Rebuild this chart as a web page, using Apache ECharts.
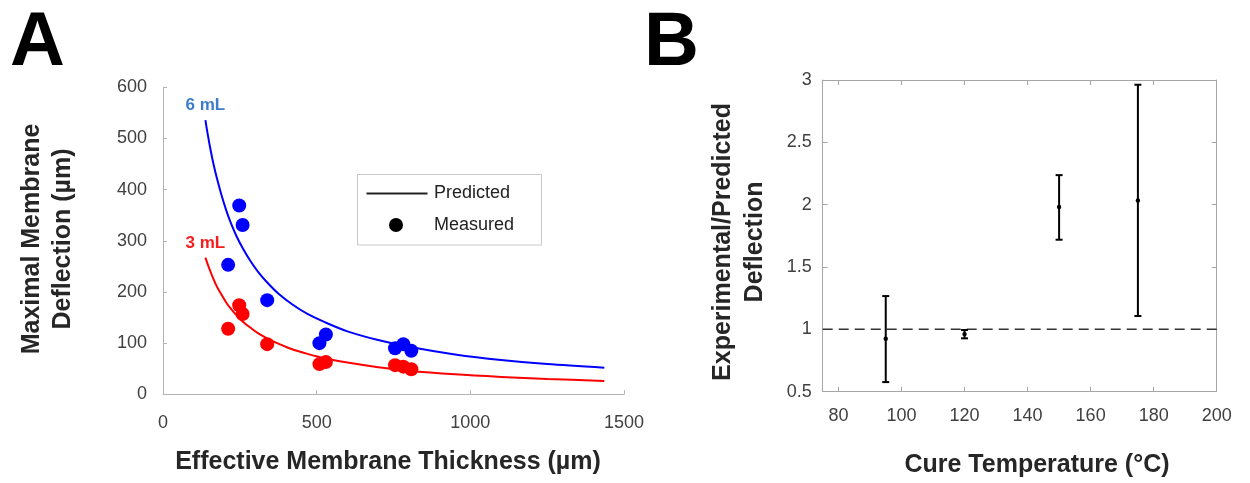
<!DOCTYPE html>
<html>
<head>
<meta charset="utf-8">
<script src="https://cdn.jsdelivr.net/npm/echarts@6/dist/echarts.min.js"></script>
<style>html,body{margin:0;padding:0;background:#fff}#c{width:1250px;height:483px}</style>
</head>
<body>
<div id="c"></div>
<script>
// ---- Panel A data ----
const curveThickness = [138, 145, 155, 165, 175, 190, 205, 220, 240, 260, 285, 310, 340, 375, 420, 470, 530, 600, 700, 800, 950, 1100, 1250, 1436];
const predicted6mL   = [536, 510, 477, 448, 423, 390, 361, 336, 308, 285, 260, 239, 218, 197, 176, 157, 140, 123, 106, 93, 78, 67, 59, 52];
const predicted3mL   = [267, 255, 239, 224, 211, 195, 180, 168, 154, 142, 130, 119, 109, 99, 88, 79, 70, 62, 53, 46, 39, 34, 30, 26];
const measuredThickness = [212, 248, 259, 339, 509, 530, 755, 782, 808];
const measured6mL       = [253, 369, 331, 184, 100, 117, 90, 98, 85];
const measured3mL       = [128, 174, 157, 98, 59, 63, 57, 54, 49];
const xTicksA = [0, 500, 1000, 1500];
const yTicksA = [0, 100, 200, 300, 400, 500, 600];
// ---- Panel B data ----
const cureTemp   = [95, 120, 150, 175];
const ratioMean  = [0.925, 0.962, 1.981, 2.034];
const ratioLow   = [0.577, 0.928, 1.719, 1.107];
const ratioHigh  = [1.267, 0.995, 2.237, 2.962];
const xTicksB = [80, 100, 120, 140, 160, 180, 200];
const yTicksB = [0.5, 1, 1.5, 2, 2.5, 3];

const FONT = '"Liberation Sans", Arial, sans-serif';
const chart = echarts.init(document.getElementById('c'), null, {renderer: 'canvas'});

function pairs(xs, ys) { return xs.map((x, i) => [x, ys[i]]); }
function labelled(xs, ys, text, color) {
  return xs.map((x, i) => i === 0 ? {
    value: [x, ys[i]],
    label: {show: true, formatter: text, position: 'top', distance: 6,
      color: color, fontFamily: FONT, fontWeight: 'bold', fontSize: 17}
  } : [x, ys[i]]);
}
const plain = v => String(v);

const axisGrayA = '#b4b4b4';
const axisGrayB = '#a6a6a6';
const labelColor = '#404040';

const option = {
  animation: false,
  backgroundColor: '#fff',
  grid: [
    {left: 163, top: 87.3, width: 461, height: 307},
    {left: 822.7, top: 80, width: 394, height: 311.7}
  ],
  xAxis: [
    {type: 'value', gridIndex: 0, min: xTicksA[0], max: xTicksA[xTicksA.length - 1], interval: 500,
      axisLine: {show: true, lineStyle: {color: axisGrayA, width: 1}},
      axisTick: {show: true, inside: true, length: 4, lineStyle: {color: axisGrayA}},
      axisLabel: {margin: 20, color: labelColor, fontSize: 18, fontFamily: FONT, formatter: plain},
      splitLine: {show: false}},
    {type: 'value', gridIndex: 1, min: 75, max: 200,
      axisLine: {show: true, onZero: false, lineStyle: {color: axisGrayB, width: 1}},
      axisTick: {show: true, inside: true, length: 5, customValues: xTicksB, lineStyle: {color: axisGrayB}},
      axisLabel: {margin: 15, color: labelColor, fontSize: 18, fontFamily: FONT, customValues: xTicksB, formatter: plain},
      splitLine: {show: false}},
    {type: 'value', gridIndex: 1, position: 'top', min: 75, max: 200,
      axisLine: {show: true, onZero: false, lineStyle: {color: axisGrayB, width: 1}},
      axisTick: {show: true, inside: true, length: 5, customValues: xTicksB, lineStyle: {color: axisGrayB}},
      axisLabel: {show: false},
      splitLine: {show: false}}
  ],
  yAxis: [
    {type: 'value', gridIndex: 0, min: yTicksA[0], max: yTicksA[yTicksA.length - 1], interval: 100,
      axisLine: {show: true, lineStyle: {color: axisGrayA, width: 1}},
      axisTick: {show: true, inside: true, length: 4, lineStyle: {color: axisGrayA}},
      axisLabel: {margin: 16, color: labelColor, fontSize: 18, fontFamily: FONT, formatter: plain},
      splitLine: {show: false}},
    {type: 'value', gridIndex: 1, min: yTicksB[0], max: yTicksB[yTicksB.length - 1], interval: 0.5,
      axisLine: {show: true, onZero: false, lineStyle: {color: axisGrayB, width: 1}},
      axisTick: {show: true, inside: true, length: 5, lineStyle: {color: axisGrayB}},
      axisLabel: {margin: 11, color: labelColor, fontSize: 18, fontFamily: FONT, formatter: plain},
      splitLine: {show: false}},
    {type: 'value', gridIndex: 1, position: 'right', min: yTicksB[0], max: yTicksB[yTicksB.length - 1], interval: 0.5,
      axisLine: {show: true, onZero: false, lineStyle: {color: axisGrayB, width: 1}},
      axisTick: {show: true, inside: true, length: 5, lineStyle: {color: axisGrayB}},
      axisLabel: {show: false},
      splitLine: {show: false}}
  ],
  series: [
    {type: 'line', xAxisIndex: 0, yAxisIndex: 0, smooth: 0.3, symbol: 'circle', symbolSize: 0,
      showSymbol: true, lineStyle: {color: '#0000ff', width: 2}, itemStyle: {color: '#0000ff'},
      data: labelled(curveThickness, predicted6mL, '6 mL', '#3d7dca'), z: 2},
    {type: 'line', xAxisIndex: 0, yAxisIndex: 0, smooth: 0.3, symbol: 'circle', symbolSize: 0,
      showSymbol: true, lineStyle: {color: '#ff0000', width: 2}, itemStyle: {color: '#ff0000'},
      data: labelled(curveThickness, predicted3mL, '3 mL', '#f41e1e'), z: 2},
    {type: 'scatter', xAxisIndex: 0, yAxisIndex: 0, symbolSize: 14,
      itemStyle: {color: '#0000ff', opacity: 1}, data: pairs(measuredThickness, measured6mL), z: 3},
    {type: 'scatter', xAxisIndex: 0, yAxisIndex: 0, symbolSize: 14,
      itemStyle: {color: '#ff0000', opacity: 1}, data: pairs(measuredThickness, measured3mL), z: 3},
    {type: 'line', xAxisIndex: 1, yAxisIndex: 1, symbol: 'none',
      lineStyle: {color: '#333', width: 1.5, type: [10, 6]},
      data: [[75, 1], [200, 1]], z: 1},
    {type: 'custom', xAxisIndex: 1, yAxisIndex: 1,
      data: cureTemp.map((t, i) => [t, ratioLow[i], ratioHigh[i], ratioMean[i]]),
      encode: {x: 0, y: [1, 2]},
      renderItem: function (params, api) {
        const x = api.value(0);
        const pLo = api.coord([x, api.value(1)]);
        const pHi = api.coord([x, api.value(2)]);
        const pM = api.coord([x, api.value(3)]);
        const w = 3.5;
        const st = {stroke: '#000', lineWidth: 2};
        return {type: 'group', children: [
          {type: 'line', shape: {x1: pLo[0], y1: pLo[1], x2: pHi[0], y2: pHi[1]}, style: st},
          {type: 'line', shape: {x1: pLo[0] - w, y1: pLo[1], x2: pLo[0] + w, y2: pLo[1]}, style: st},
          {type: 'line', shape: {x1: pHi[0] - w, y1: pHi[1], x2: pHi[0] + w, y2: pHi[1]}, style: st},
          {type: 'circle', shape: {cx: pM[0], cy: pM[1], r: 2.2}, style: {fill: '#000'}}
        ]};
      }, z: 3}
  ],
  graphic: [
    {type: 'text', left: 10, top: 6, style: {text: 'A', font: 'bold 76px ' + FONT, fill: '#000'}},
    {type: 'text', left: 644, top: 6, style: {text: 'B', font: 'bold 76px ' + FONT, fill: '#000'}},
    // legend box
    {type: 'rect', shape: {x: 357.5, y: 174.5, width: 184, height: 70.5},
      style: {fill: '#fff', stroke: '#c8c8c8', lineWidth: 1}, z: 10},
    {type: 'line', shape: {x1: 366.5, y1: 193.5, x2: 427.5, y2: 193.5},
      style: {stroke: '#222', lineWidth: 2}, z: 11},
    {type: 'circle', shape: {cx: 396, cy: 225, r: 7}, style: {fill: '#000'}, z: 11},
    {type: 'text', x: 434, y: 193.5, style: {text: 'Predicted', font: '18px ' + FONT, fill: '#222',
      textVerticalAlign: 'middle'}, z: 11},
    {type: 'text', x: 434, y: 225, style: {text: 'Measured', font: '18px ' + FONT, fill: '#222',
      textVerticalAlign: 'middle'}, z: 11},
    // axis titles
    {type: 'text', x: 388, y: 462, style: {text: 'Effective Membrane Thickness (µm)',
      font: 'bold 25px ' + FONT, fill: '#262626', textAlign: 'center', textVerticalAlign: 'middle'}},
    {type: 'text', x: 1037, y: 465, style: {text: 'Cure Temperature (°C)',
      font: 'bold 25px ' + FONT, fill: '#262626', textAlign: 'center', textVerticalAlign: 'middle'}},
    {type: 'text', x: 48, y: 239, rotation: Math.PI / 2, style: {text: 'Maximal Membrane\nDeflection (µm)',
      font: 'bold 25px ' + FONT, lineHeight: 31, fill: '#262626', textAlign: 'center', textVerticalAlign: 'middle'}},
    {type: 'text', x: 739, y: 242, rotation: Math.PI / 2, style: {text: 'Experimental/Predicted\nDeflection',
      font: 'bold 25px ' + FONT, lineHeight: 32, fill: '#262626', textAlign: 'center', textVerticalAlign: 'middle'}}
  ]
};
chart.setOption(option);
</script>
</body>
</html>
